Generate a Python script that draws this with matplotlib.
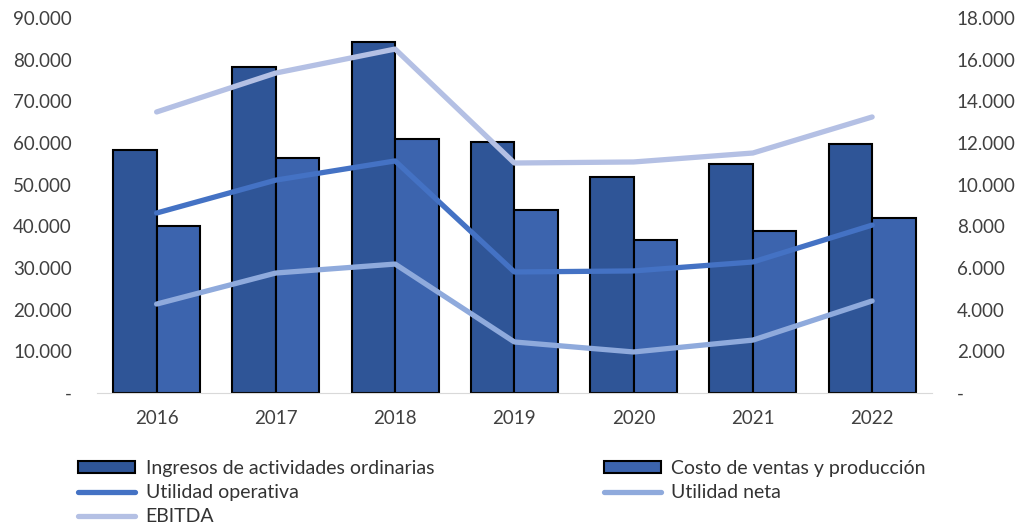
import matplotlib.pyplot as plt
import numpy as np
from matplotlib.ticker import FuncFormatter

plt.rcParams['font.family'] = ['Lato', 'DejaVu Sans']

years = ["2016", "2017", "2018", "2019", "2020", "2021", "2022"]
ingresos = [58300, 78200, 84200, 60200, 51800, 55000, 59800]
costo = [40100, 56400, 61000, 43900, 36700, 38900, 42000]
util_operativa = [8640, 10220, 11140, 5810, 5860, 6290, 8060]
util_neta = [4270, 5760, 6190, 2450, 1970, 2540, 4420]
ebitda = [13490, 15360, 16510, 11040, 11090, 11520, 13250]


def miles(v, pos):
    if v == 0:
        return "-"
    return f"{v:,.0f}".replace(",", ".")


fig = plt.figure(figsize=(10.33, 5.25), dpi=100)
ax = fig.add_axes([0.0939, 0.2514, 0.8081, 0.7143])
ax2 = ax.twinx()

x = np.arange(len(years))
w = 0.365
b1 = ax.bar(x - w / 2, ingresos, w, color="#2F5597", edgecolor="black", linewidth=1.5,
            label="Ingresos de actividades ordinarias")
b2 = ax.bar(x + w / 2, costo, w, color="#3C64AE", edgecolor="black", linewidth=1.5,
            label="Costo de ventas y producción")

l1, = ax2.plot(x, util_operativa, color="#4472C4", lw=3.8, solid_capstyle="round",
               label="Utilidad operativa")
l2, = ax2.plot(x, util_neta, color="#8FAADC", lw=3.8, solid_capstyle="round",
               label="Utilidad neta")
l3, = ax2.plot(x, ebitda, color="#B4C0E4", lw=3.8, solid_capstyle="round",
               label="EBITDA")

ax.set_xlim(-0.5, len(years) - 0.5)
ax.set_ylim(0, 90000)
ax2.set_ylim(0, 18000)
ax.set_yticks(np.arange(0, 90001, 10000))
ax2.set_yticks(np.arange(0, 18001, 2000))
ax.yaxis.set_major_formatter(FuncFormatter(miles))
ax2.yaxis.set_major_formatter(FuncFormatter(miles))
ax.set_xticks(x)
ax.set_xticklabels(years)

for a in (ax, ax2):
    for s in a.spines.values():
        s.set_visible(False)
    a.tick_params(length=0, labelsize=13.5, colors="#404040")
ax.spines["bottom"].set_visible(True)
ax.spines["bottom"].set_color("#D9D9D9")
ax.tick_params(axis="y", pad=18)
ax2.tick_params(axis="y", pad=18)
ax.tick_params(axis="x", pad=12)

# legend order so that the two columns read like the original
handles = [b1, l1, l3, b2, l2]
fig.legend(handles=handles, labels=[h.get_label() for h in handles],
           loc="lower left", bbox_to_anchor=(0.059, -0.034), ncol=2, frameon=False,
           fontsize=14, handlelength=2.9, handleheight=0.55, columnspacing=8.75,
           labelspacing=0.38, handletextpad=0.55, labelcolor="#333333")

plt.savefig("out.png")
